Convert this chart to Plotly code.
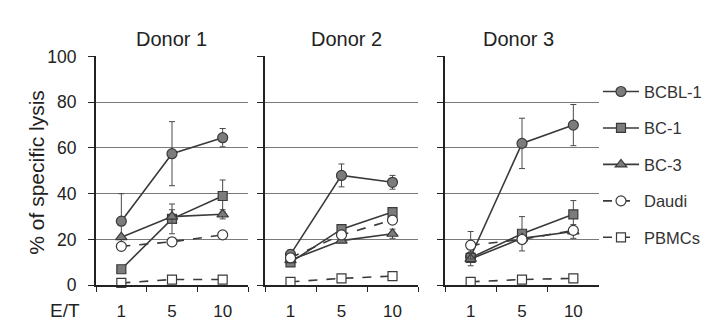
import plotly.graph_objects as go

et_labels = ["1", "5", "10"]
donors = ["Donor 1", "Donor 2", "Donor 3"]
series_names = ["BCBL-1", "BC-1", "BC-3", "Daudi", "PBMCs"]

# values per donor: [BCBL-1, BC-1, BC-3, Daudi, PBMCs]
donor1_vals = [[28, 57.5, 64.5], [7, 29, 39], [21, 30, 31], [17, 19, 22], [1, 2.5, 2.5]]
donor2_vals = [[13.5, 48, 45], [10, 24.5, 32], [11, 19.5, 22.5], [12, 22, 28.5], [1.5, 3, 4]]
donor3_vals = [[12.5, 62, 70], [12, 22.5, 31], [11.5, 20.5, 23.5], [17.5, 20, 24], [1.5, 2.5, 3]]

donor1_err = [[12, 14, 4], [0, 6.5, 7], [0, 3, 2], [0, 0, 0], [0, 0, 0]]
donor2_err = [[2, 5, 3], [0, 0, 0], [0, 0, 2], [0, 0, 1.5], [0, 0, 0]]
donor3_err = [[4, 11, 9], [0, 7.5, 6], [0, 0, 3], [6, 0, 0], [0, 0, 0]]

all_vals = [donor1_vals, donor2_vals, donor3_vals]
all_err = [donor1_err, donor2_err, donor3_err]

line_col = "#3a3a3a"
fill_col = "#7c7c7c"
styles = {
    "BCBL-1": dict(symbol="circle", fill=fill_col, dash="solid", size=10),
    "BC-1": dict(symbol="square", fill=fill_col, dash="solid", size=9),
    "BC-3": dict(symbol="triangle-up", fill=fill_col, dash="solid", size=10),
    "Daudi": dict(symbol="circle", fill="white", dash="dash", size=10),
    "PBMCs": dict(symbol="square", fill="white", dash="dash", size=9),
}

fig = go.Figure()
font_family = "Liberation Sans, Arial, sans-serif"

for d in range(3):
    xa = "x" if d == 0 else f"x{d+1}"
    ya = "y" if d == 0 else f"y{d+1}"
    for s, name in enumerate(series_names):
        st = styles[name]
        fig.add_trace(go.Scatter(
            x=et_labels, y=all_vals[d][s], xaxis=xa, yaxis=ya,
            mode="lines+markers", name=name, legendgroup=name,
            showlegend=(d == 0),
            line=dict(color=line_col, width=1.6, dash=st["dash"]),
            marker=dict(symbol=st["symbol"], size=st["size"], color=st["fill"],
                        line=dict(color=line_col, width=1.2)),
            error_y=dict(type="data", array=all_err[d][s], color="#4a4a4a",
                         thickness=1, width=3),
            cliponaxis=False,
        ))

domains = [(88 / 713, 240 / 713), (257 / 713, 410 / 713), (437 / 713, 591 / 713)]
title_x = [163, 338, 510]
ydom = ((321 - 285) / 321, (321 - 41) / 321)

layout = dict(
    width=713, height=321,
    margin=dict(l=0, r=0, t=0, b=0),
    paper_bgcolor="white", plot_bgcolor="white",
    font=dict(family=font_family, size=17, color="#222"),
    legend=dict(x=590 / 713, y=1 - 60 / 321, xanchor="left", yanchor="top",
                tracegroupgap=12, font=dict(size=16.5, color="#333"),
                itemwidth=36, bgcolor="rgba(0,0,0,0)", borderwidth=0),
    annotations=[],
)

for d in range(3):
    sx = "" if d == 0 else str(d + 1)
    layout["xaxis" + sx] = dict(
        domain=list(domains[d]), anchor="y" + sx, type="category",
        range=[-0.5, 2.5], tickson="boundaries", ticks="outside", ticklen=5,
        tickcolor="#222", showline=True, linecolor="#222", linewidth=1.5,
        showgrid=False, tickfont=dict(size=17, color="#222"),
        ticklabelstandoff=10,
        categoryorder="array", categoryarray=et_labels,
    )
    layout["yaxis" + sx] = dict(
        domain=list(ydom), anchor="x" + sx, range=[0, 100],
        tickvals=[0, 20, 40, 60, 80, 100], ticks="outside", ticklen=6,
        tickcolor="#222", showline=True, linecolor="#222", linewidth=2,
        showgrid=True, gridcolor="#7a7a7a", gridwidth=1,
        zeroline=False, showticklabels=(d == 0),
        ticklabelstandoff=8,
        tickfont=dict(size=17.5, color="#222"),
    )
    layout["annotations"].append(dict(
        text=donors[d], x=title_x[d] / 713, y=1 - 22 / 321,
        xref="paper", yref="paper", showarrow=False,
        font=dict(size=20, color="#222"), xanchor="center", yanchor="middle",
    ))

layout["annotations"].append(dict(
    text="% of specific lysis", x=29 / 713, y=1 - 165 / 321, xref="paper", yref="paper",
    showarrow=False, textangle=-90, font=dict(size=21, color="#222"),
    xanchor="center", yanchor="middle",
))
layout["annotations"].append(dict(
    text="E/T", x=57 / 713, y=1 - 312 / 321, xref="paper", yref="paper",
    showarrow=False, font=dict(size=19, color="#222"), xanchor="center", yanchor="middle",
))

fig.update_layout(**layout)
fig.write_html("out.html")
